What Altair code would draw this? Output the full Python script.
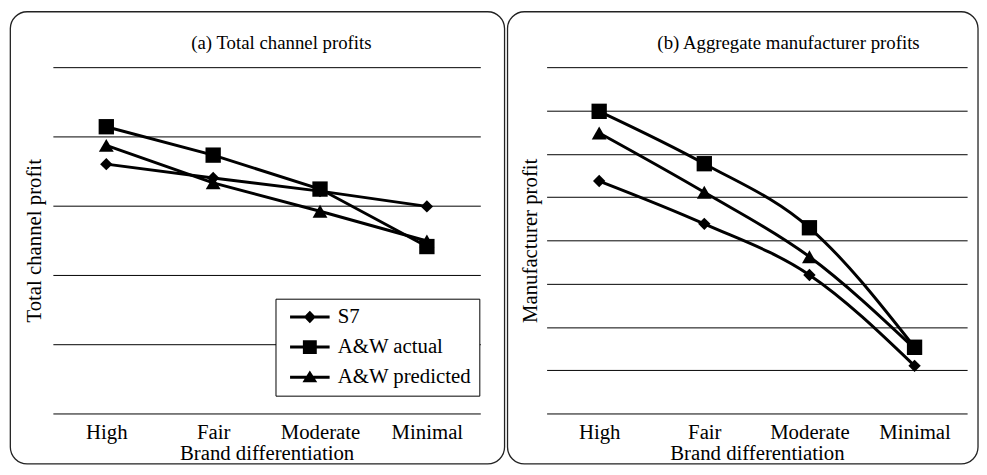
import altair as alt
import pandas as pd

categories = ["High", "Fair", "Moderate", "Minimal"]
series_names = ["S7", "A&W actual", "A&W predicted"]

# (a) Total channel profits (unitless scale, gridlines at each unit)
a_s7 = [3.60, 3.40, 3.21, 2.99]
a_actual = [4.14, 3.73, 3.24, 2.41]
a_pred = [3.87, 3.33, 2.92, 2.49]
a_ticks = [0, 1, 2, 3, 4, 5]

# (b) Aggregate manufacturer profits
b_s7 = [5.37, 4.38, 3.20, 1.10]
b_actual = [6.98, 5.77, 4.29, 1.53]
b_pred = [6.48, 5.11, 3.62, 1.50]
b_ticks = [0, 1, 2, 3, 4, 5, 6, 7, 8]

FONT = "Liberation Serif"
shapes = {"S7": "diamond", "A&W actual": "square", "A&W predicted": "triangle-up"}
sizes = {"S7": 156, "A&W actual": 240, "A&W predicted": 225}
LINE = "M-2.22,-0.17H2.22V0.17H-2.22Z"
legend_paths = [
    LINE + "M-0.68,0L0,-0.7L0.68,0L0,0.7Z",
    LINE + "M-0.78,-0.78H0.78V0.78H-0.78Z",
    LINE + "M0,-0.75L0.83,0.58H-0.83Z",
]


def long_df(vals):
    rows = []
    for name, arr in zip(series_names, vals):
        for c, v in zip(categories, arr):
            rows.append({"series": name, "level": c, "value": v})
    return pd.DataFrame(rows)


def panel(df, ticks, ytitle, ptitle, width, interp, frame, ptitle_x, ytitle_x, with_legend):
    xscale = alt.Scale(type="point", padding=0.5)
    yscale = alt.Scale(domain=[ticks[0], ticks[-1]], nice=False)
    x_enc = alt.X(
        "level:N", sort=categories, scale=xscale,
        axis=alt.Axis(
            orient="bottom", title="Brand differentiation", labelFont=FONT,
            labelFontSize=21, labelColor="black", labelPadding=8, labelAngle=0,
            domain=False, ticks=False, grid=False, titleFont=FONT,
            titleFontSize=21, titleFontWeight="normal", titleColor="black",
            titleY=47, titleBaseline="alphabetic",
        ),
    )
    y_enc = alt.Y(
        "value:Q", scale=yscale,
        axis=alt.Axis(
            orient="left", values=ticks, grid=True, gridColor="black",
            gridWidth=1, gridOpacity=1, domain=False, ticks=False, labels=False,
            title=ytitle, titleFont=FONT, titleFontSize=21,
            titleFontWeight="normal", titleColor="black", titleX=ytitle_x,
            titleBaseline="alphabetic",
        ),
    )
    x_plain = alt.X("level:N", sort=categories, scale=xscale, axis=None)
    y_plain = alt.Y("value:Q", scale=yscale, axis=None)

    base = alt.Chart(df)
    layers = []
    fx0, fx1, fy0, fy1 = frame
    layers.append(
        alt.Chart(pd.DataFrame({"f": [0]}))
        .mark_rect(filled=False, color="#222222", strokeWidth=1.3, cornerRadius=17)
        .encode(x=alt.value(fx0), x2=alt.value(fx1), y=alt.value(fy0), y2=alt.value(fy1))
    )
    layers.append(
        base.mark_line(color="black", strokeWidth=3, interpolate=interp)
        .encode(x=x_enc, y=y_enc, detail="series:N")
    )
    for name in series_names:
        layers.append(
            base.transform_filter(alt.datum.series == name)
            .mark_point(filled=True, color="black", opacity=1,
                        shape=shapes[name], size=sizes[name])
            .encode(x=x_plain, y=y_plain)
        )
    layers.append(
        base.mark_point(opacity=0).encode(
            x=alt.X(
                "level:N", sort=categories, scale=xscale,
                axis=alt.Axis(
                    orient="top", title=ptitle, labels=False, ticks=False,
                    domain=False, grid=False, titleFont=FONT, titleFontSize=19,
                    titleFontWeight="normal", titleColor="black",
                    titleX=ptitle_x, titleY=-19, titleBaseline="alphabetic",
                ),
            ),
        )
    )
    if with_legend:
        layers.append(
            alt.Chart(pd.DataFrame({"series": series_names}))
            .transform_filter("false")
            .mark_point(filled=True, color="black", opacity=1)
            .encode(
                shape=alt.Shape(
                    "series:N",
                    scale=alt.Scale(domain=series_names, range=legend_paths),
                    legend=alt.Legend(
                        title=None, orient="none", legendX=225, legendY=234,
                        padding=8, fillColor="white", strokeColor="black",
                        labelFont=FONT, labelFontSize=21, labelColor="black",
                        symbolSize=324, symbolStrokeWidth=0,
                        symbolFillColor="black",
                        symbolOffset=16.2, labelOffset=17.7, rowPadding=8.4,
                        labelLimit=300,
                    ),
                )
            )
        )
    return (
        alt.layer(*layers)
        .resolve_axis(x="independent", y="independent")
        .properties(width=width, height=350)
    )


pa = panel(long_df([a_s7, a_actual, a_pred]), a_ticks, "Total channel profit",
           "(a) Total channel profits", 432, "linear",
           (-43, 456.5, -56, 401), 230.5, -13, True)
pb = panel(long_df([b_s7, b_actual, b_pred]), b_ticks, "Manufacturer profit",
           "(b) Aggregate manufacturer profits", 425, "monotone",
           (-39.5, 436, -56, 401), 244, -10, False)

chart = (
    alt.hconcat(pa, pb, spacing=0)
    .properties(padding={"left": 1.35, "top": 0.35, "right": 0, "bottom": 0})
    .configure(font=FONT)
    .configure_view(strokeWidth=0)
)

chart.save("out.html", embed_options={"renderer": "svg", "actions": False})
